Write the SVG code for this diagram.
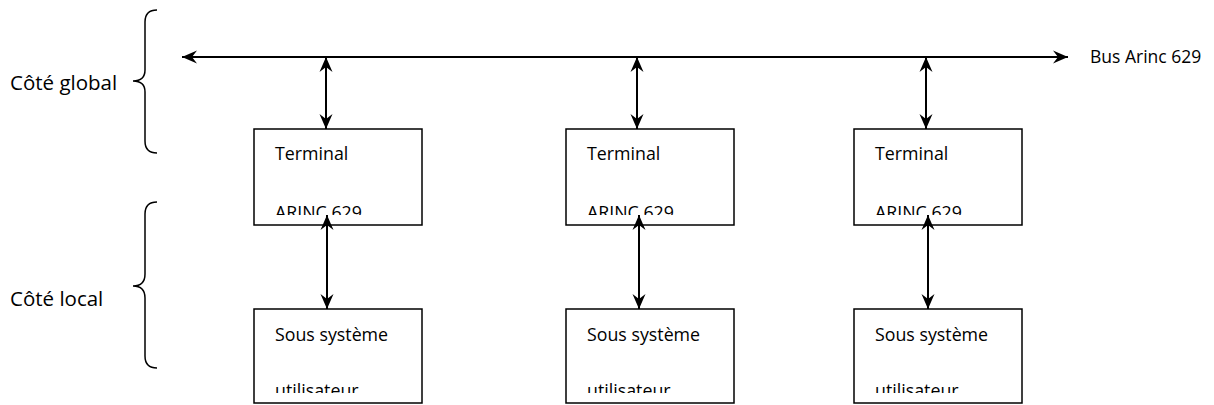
<svg xmlns="http://www.w3.org/2000/svg" width="1214" height="405" viewBox="0 0 1214 405">
<style>
text{font-family:"Open Sans","Liberation Sans",sans-serif;fill:#000}
.t{font-size:17.8px}
.lab{font-size:20.5px}
.bus{font-size:17.5px}
.box{fill:#fff;stroke:#000;stroke-width:1.5}
.ln{stroke:#000;stroke-width:2;fill:none}
.br{stroke:#000;stroke-width:1.5;fill:none}
</style>
<defs>
<marker id="ah" viewBox="-16 -8 18 16" refX="0" refY="0" markerWidth="18" markerHeight="16" markerUnits="userSpaceOnUse" orient="auto-start-reverse">
<path d="M0,0 L-15,-6.5 L-10,0 L-15,6.5 Z" fill="#000"/>
</marker>
<clipPath id="c1"><rect x="0" y="0" width="1214" height="215"/></clipPath>
<clipPath id="c2"><rect x="0" y="0" width="1214" height="393"/></clipPath>
</defs>
<g id="braces">
<path class="br" d="M157,10 Q145,10 145,22 L145,70 Q145,81 133,81 Q145,81 145,92 L145,141 Q145,153 157,153"/>
<path class="br" d="M157,202 Q145,202 145,214 L145,274 Q145,286 133,286 Q145,286 145,298 L145,356 Q145,368 157,368"/>
</g>
<g id="labels">
<text class="lab" x="10" y="90">Côté global</text>
<text class="lab" x="10" y="306">Côté local</text>
<text class="bus" x="1090" y="63">Bus Arinc 629</text>
</g>
<g id="term1"><rect class="box" x="254" y="129" width="168" height="96"/><text class="t" x="275" y="160">Terminal</text><text class="t" x="275" y="219" clip-path="url(#c1)">ARINC 629</text></g>
<g id="term2"><rect class="box" x="566" y="129" width="168" height="96"/><text class="t" x="587" y="160">Terminal</text><text class="t" x="587" y="219" clip-path="url(#c1)">ARINC 629</text></g>
<g id="term3"><rect class="box" x="854" y="129" width="168" height="96"/><text class="t" x="875" y="160">Terminal</text><text class="t" x="875" y="219" clip-path="url(#c1)">ARINC 629</text></g>
<g id="sub1"><rect class="box" x="254" y="309" width="168" height="94"/><text class="t" x="275" y="341">Sous système</text><text class="t" x="275" y="397" clip-path="url(#c2)">utilisateur</text></g>
<g id="sub2"><rect class="box" x="566" y="309" width="168" height="94"/><text class="t" x="587" y="341">Sous système</text><text class="t" x="587" y="397" clip-path="url(#c2)">utilisateur</text></g>
<g id="sub3"><rect class="box" x="854" y="309" width="168" height="94"/><text class="t" x="875" y="341">Sous système</text><text class="t" x="875" y="397" clip-path="url(#c2)">utilisateur</text></g>
<g id="connectors">
<line class="ln" x1="182" y1="57" x2="1068" y2="57" marker-start="url(#ah)" marker-end="url(#ah)"/>
<line class="ln" x1="326" y1="57" x2="326" y2="129" marker-start="url(#ah)" marker-end="url(#ah)"/>
<line class="ln" x1="637" y1="57" x2="637" y2="129" marker-start="url(#ah)" marker-end="url(#ah)"/>
<line class="ln" x1="926" y1="57" x2="926" y2="129" marker-start="url(#ah)" marker-end="url(#ah)"/>
<line class="ln" x1="327" y1="215" x2="327" y2="309" marker-start="url(#ah)" marker-end="url(#ah)"/>
<line class="ln" x1="639" y1="215" x2="639" y2="309" marker-start="url(#ah)" marker-end="url(#ah)"/>
<line class="ln" x1="928" y1="215" x2="928" y2="309" marker-start="url(#ah)" marker-end="url(#ah)"/>
</g>
</svg>
